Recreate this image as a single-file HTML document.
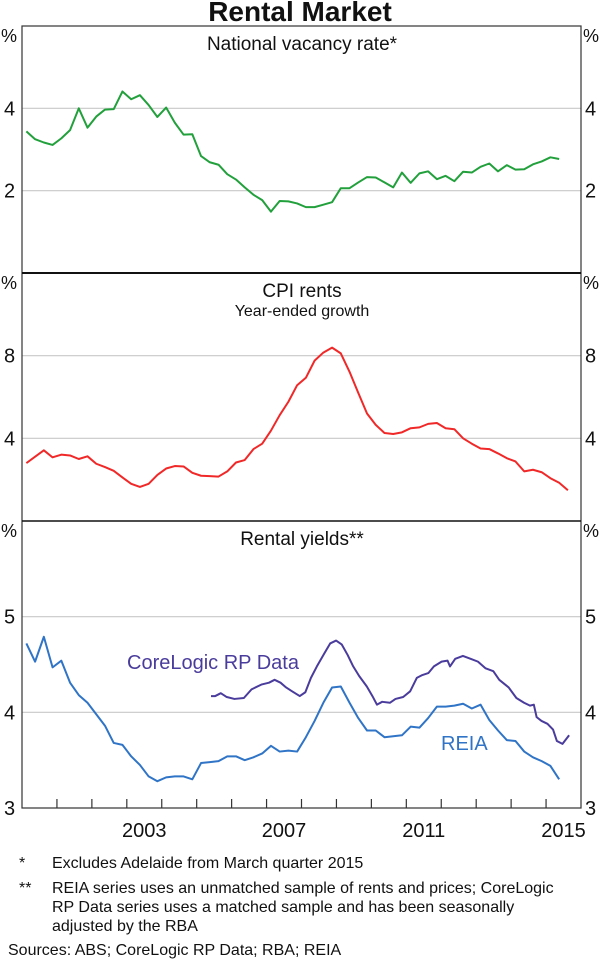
<!DOCTYPE html>
<html><head><meta charset="utf-8"><style>
html,body{margin:0;padding:0;background:#fff;}
svg{display:block;font-family:"Liberation Sans",Arial,sans-serif;}
</style></head><body>
<svg id="c" width="600" height="963" viewBox="0 0 600 963">
<text x="300" y="21" text-anchor="middle" font-size="28" font-weight="bold" fill="#111">Rental Market</text>
<g id="notes" font-size="16" fill="#111">
<text x="19" y="868">*</text>
<text x="52" y="868">Excludes Adelaide from March quarter 2015</text>
<text x="19" y="893">**</text>
<text x="52" y="893">REIA series uses an unmatched sample of rents and prices; CoreLogic</text>
<text x="52" y="912">RP Data series uses a matched sample and has been seasonally</text>
<text x="52" y="931">adjusted by the RBA</text>
<text x="8" y="955">Sources:  ABS; CoreLogic RP Data; RBA; REIA</text>
</g>
</svg>
<script>
const vacancyValues=[3.44,3.25,3.17,3.11,3.27,3.47,4.0,3.53,3.8,3.97,3.98,4.41,4.22,4.32,4.08,3.79,4.02,3.65,3.36,3.37,2.84,2.69,2.63,2.40,2.27,2.08,1.90,1.77,1.49,1.75,1.74,1.69,1.60,1.60,1.66,1.72,2.06,2.06,2.20,2.33,2.32,2.20,2.08,2.44,2.19,2.42,2.47,2.28,2.36,2.23,2.46,2.44,2.58,2.66,2.47,2.62,2.51,2.52,2.64,2.71,2.81,2.77];
const cpiValues=[2.80,3.11,3.42,3.08,3.21,3.17,3.0,3.13,2.77,2.61,2.43,2.11,1.80,1.65,1.80,2.23,2.54,2.66,2.64,2.33,2.19,2.17,2.15,2.40,2.83,2.95,3.48,3.74,4.37,5.12,5.77,6.57,6.93,7.76,8.15,8.39,8.11,7.22,6.20,5.20,4.65,4.26,4.21,4.29,4.49,4.53,4.70,4.74,4.49,4.44,4.0,3.74,3.51,3.48,3.27,3.04,2.88,2.40,2.48,2.36,2.07,1.85,1.49];
const reiaValues=[4.72,4.53,4.79,4.47,4.54,4.31,4.18,4.10,3.98,3.86,3.68,3.66,3.54,3.45,3.33,3.28,3.32,3.33,3.33,3.30,3.47,3.48,3.49,3.54,3.54,3.50,3.53,3.57,3.65,3.59,3.60,3.59,3.74,3.91,4.10,4.26,4.27,4.10,3.94,3.81,3.81,3.74,3.75,3.76,3.85,3.84,3.94,4.06,4.06,4.07,4.09,4.04,4.08,3.92,3.81,3.71,3.70,3.59,3.53,3.49,3.44,3.30];
const coreDates=[2005.41,2005.53,2005.69,2005.86,2006.08,2006.35,2006.57,2006.85,2007.07,2007.23,2007.40,2007.56,2007.73,2007.95,2008.11,2008.27,2008.44,2008.66,2008.82,2008.99,2009.15,2009.32,2009.48,2009.65,2009.87,2010.03,2010.16,2010.31,2010.53,2010.69,2010.91,2011.11,2011.30,2011.46,2011.63,2011.79,2012.01,2012.18,2012.25,2012.40,2012.62,2012.84,2013.05,2013.27,2013.49,2013.66,2013.93,2014.15,2014.37,2014.54,2014.65,2014.73,2014.87,2015.04,2015.20,2015.31,2015.47,2015.66];
const coreValues=[4.17,4.17,4.20,4.16,4.14,4.15,4.24,4.29,4.31,4.34,4.31,4.26,4.22,4.17,4.21,4.36,4.48,4.62,4.72,4.75,4.71,4.60,4.48,4.38,4.27,4.17,4.08,4.11,4.10,4.14,4.16,4.22,4.36,4.39,4.41,4.48,4.53,4.54,4.48,4.56,4.59,4.56,4.53,4.46,4.43,4.34,4.26,4.15,4.10,4.07,4.08,3.95,3.91,3.88,3.82,3.70,3.67,3.76];
const yearLabels=[2003,2007,2011,2015];
const quarterStart=2000.125;

const NS="http://www.w3.org/2000/svg";
const svg=document.getElementById('c');
const X0=22,X1=581,Y0=2000,Y1=2016;
function xs(t){return X0+(t-Y0)/(Y1-Y0)*(X1-X0);}
function mk(tag,attrs,parent){const e=document.createElementNS(NS,tag);for(const k in attrs)e.setAttribute(k,attrs[k]);(parent||svg).appendChild(e);return e;}
const panels=[
 {name:'vacancy',top:26,bot:273,min:0,max:6,ticks:[2,4],title:['National vacancy rate*']},
 {name:'cpi',top:273,bot:521,min:0,max:12,ticks:[4,8],title:['CPI rents','Year-ended growth']},
 {name:'yields',top:521,bot:808,min:3,max:6,ticks:[4,5],title:['Rental yields**']}
];
panels.forEach(p=>{p.ys=v=>p.bot-(v-p.min)/(p.max-p.min)*(p.bot-p.top);});
panels.forEach((p,i)=>{
 p.ticks.forEach(t=>{
  const y=p.ys(t);
  const g=mk('line',{x1:X0,x2:X1,y1:y,y2:y,stroke:'#c8c8c8','stroke-width':1.2});
  
  
  const l=mk('text',{x:4,y:y+7,'font-size':20,fill:'#111'});l.textContent=t;
  
  
  const r=mk('text',{x:585,y:y+7,'font-size':20,fill:'#111'});r.textContent=t;
  
  
 });
 if(p.name==='yields'){
  const l=mk('text',{x:4,y:p.bot+7,'font-size':20,fill:'#111'});l.textContent='3';
  
  
  const r=mk('text',{x:585,y:p.bot+7,'font-size':20,fill:'#111'});r.textContent='3';
  
  
 }
 const pl=mk('text',{x:1,y:p.top+16,'font-size':18,fill:'#111'});pl.textContent='%';
 
 
 const pr=mk('text',{x:583,y:p.top+16,'font-size':18,fill:'#111'});pr.textContent='%';
 
 
 p.title.forEach((t,j)=>{
  const e=mk('text',{x:302,y:p.top+(j===0?24:43),'text-anchor':'middle','font-size':j===0?19:16,fill:'#111'});e.textContent=t;
  
  
 });
});
function line(vals,dates,p,color,name){
 const d=vals.map((v,i)=>(i?'L':'M')+xs(dates[i]).toFixed(2)+','+p.ys(v).toFixed(2)).join('');
 const e=mk('path',{d:d,fill:'none',stroke:color,'stroke-width':2,'stroke-linejoin':'round'});
 
 
}
function qd(n){const a=[];for(let i=0;i<n;i++)a.push(quarterStart+i*0.25);return a;}
line(vacancyValues,qd(vacancyValues.length),panels[0],'#22a03c','vacancy-rate-line');
line(cpiValues,qd(cpiValues.length),panels[1],'#f02828','cpi-rents-line');
line(reiaValues,qd(reiaValues.length),panels[2],'#2f74c6','reia-yield-line');
line(coreValues,coreDates,panels[2],'#4a3c9c','corelogic-yield-line');
const fr=mk('rect',{x:X0,y:26,width:X1-X0,height:808-26,fill:'none',stroke:'#333','stroke-width':1.2});


[273,521].forEach((y,i)=>{
 const s=mk('line',{x1:X0,x2:X1,y1:y,y2:y,stroke:'#111','stroke-width':i===0?2:1.5});
 
 
});
for(let yr=2001;yr<2016;yr++){
 const x=xs(yr);
 const t=mk('line',{x1:x,x2:x,y1:808,y2:799,stroke:'#333','stroke-width':1.2});
 
 
}
yearLabels.forEach(yr=>{
 const e=mk('text',{x:xs(yr+0.5),y:837,'text-anchor':'middle','font-size':20,fill:'#111'});e.textContent=yr;
 
 
});
const a=mk('text',{x:127,y:669,'font-size':20,fill:'#4a3c9c'});a.textContent='CoreLogic RP Data';


const b=mk('text',{x:441,y:750,'font-size':20,fill:'#2f74c6'});b.textContent='REIA';


</script>
</body></html>
